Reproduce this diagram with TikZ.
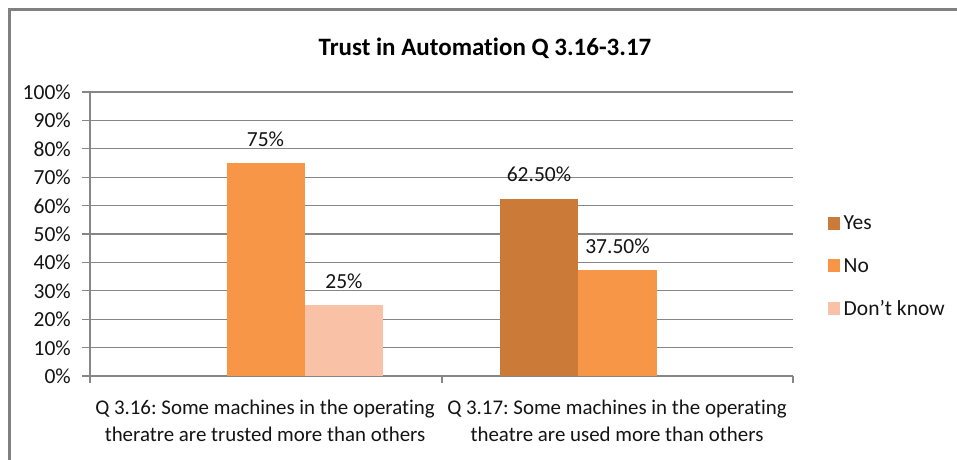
\documentclass[tikz,border=0pt]{standalone}
\usepackage{fontspec}
\setmainfont{Carlito}[Ligatures={NoCommon}]
\frenchspacing
\definecolor{yescol}{RGB}{203,122,55}
\definecolor{nocol}{RGB}{247,150,70}
\definecolor{dkcol}{RGB}{249,193,166}
\definecolor{gridcol}{RGB}{134,134,134}
\definecolor{framecol}{RGB}{128,128,128}
\definecolor{txtcol}{RGB}{20,20,20}
\begin{document}
\begin{tikzpicture}[x=1pt,y=-1pt,
  lbl/.style={font=\fontsize{21.5}{26}\selectfont, text=txtcol, inner sep=0pt},
  ylbl/.style={lbl, anchor=base east},
  vlbl/.style={lbl, anchor=base},
  clbl/.style={font=\fontsize{20.9}{25}\selectfont, text=txtcol, inner sep=0pt, anchor=base},
  grid/.style={draw=gridcol, line width=1.1pt},
  ttl/.style={font=\fontsize{25}{30}\selectfont\bfseries, text=black, inner sep=0pt, anchor=base}]
\useasboundingbox (0,0) rectangle (957,459);
\fill[white] (0,0) rectangle (957,459);
% frame
\draw[framecol, line width=2.6pt] (9.5,462) -- (9.5,9.5) -- (960,9.5);
% title
\node[ttl] (title) at (485,55) {Trust in Automation Q 3.16-3.17};
% gridlines and y labels
\foreach \i in {0,1,...,10} {
  \pgfmathsetmacro{\yy}{376-28.4*\i}
  \draw[grid] (82,\yy) -- (793,\yy);
  \pgfmathtruncatemacro{\pc}{10*\i}
  \node[ylbl] (y\i) at (71,\yy+7.5) {\pc\%};
}
% axis
\draw[grid] (90,92) -- (90,383);
\draw[grid] (442,376) -- (442,383);
\draw[grid] (793,376) -- (793,383);
% bars
\fill[nocol] (226.5,376) rectangle (305,163);
\fill[dkcol] (305,376) rectangle (383,305);
\fill[yescol] (500,376) rectangle (578,198.5);
\fill[nocol] (578,376) rectangle (656.5,269.5);
% value labels
\node[vlbl] (v1) at (265.5,146) {75\%};
\node[vlbl] (v2) at (344,288) {25\%};
\node[vlbl] (v3) at (539,181.5) {62.50\%};
\node[vlbl] (v4) at (617.5,253) {37.50\%};
% category labels
\node[clbl] (c1a) at (265,414) {Q 3.16: Some machines in the operating};
\node[clbl] (c1b) at (265,441) {theratre are trusted more than others};
\node[clbl] (c2a) at (617,414) {Q 3.17: Some machines in the operating};
\node[clbl] (c2b) at (617,441) {theatre are used more than others};
% legend
\fill[yescol] (827.5,216.5) rectangle (839.5,229.5);
\fill[nocol] (827.5,258.5) rectangle (839.5,271.5);
\fill[dkcol] (827.5,301.5) rectangle (839.5,314.5);
\node[lbl, anchor=base west] (l1) at (843.5,229) {Yes};
\node[lbl, anchor=base west] (l2) at (843.5,272) {No};
\node[lbl, anchor=base west] (l3) at (843.5,315) {Don{\char"0027}t know};
\end{tikzpicture}
\end{document}
